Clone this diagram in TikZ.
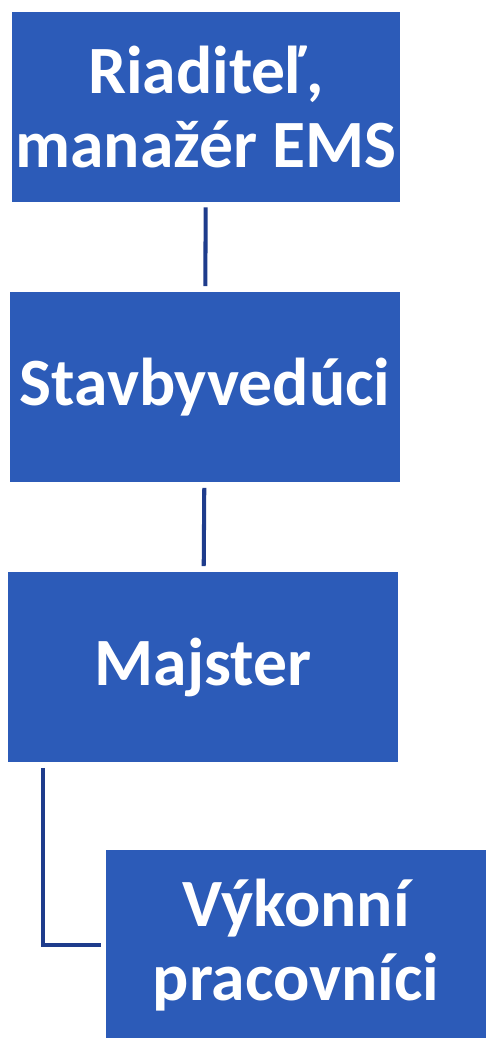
\documentclass[tikz,border=0pt]{standalone}
\usepackage{fontspec}
\setmainfont{Carlito}
\usepackage{tikz}

\definecolor{boxblue}{RGB}{44,91,184}
\definecolor{linkblue}{RGB}{30,60,140}

\begin{document}
\begin{tikzpicture}[x=0.02cm,y=-0.02cm,
  role/.style={shape=rectangle,fill=boxblue,text=white,align=center,inner sep=0pt,
    font=\fontsize{38.5}{42.5}\selectfont\bfseries},
  link/.style={draw=linkblue,line width=2.3pt,shorten <=0.1cm,shorten >=0.1cm}]
\useasboundingbox (0,0) rectangle (488,1038);
\path (206,107) node (riaditel) [role,minimum width=7.78cm,minimum height=3.8cm] {Riaditeľ,\\manažér EMS};
\path (205,387) node (stavby) [role,minimum width=7.8cm,minimum height=3.82cm] {Stavbyvedúci};
\path (203,667) node (majster) [role,minimum width=7.8cm,minimum height=3.82cm] {Majster};
\path (296,945) node (vykon) [role,minimum width=7.6cm,minimum height=3.8cm] {Výkonní\\pracovníci};
%\path (296,945) node (vykon) [role] {Výkonní pracovníci};
\path (43,947) coordinate (knee);

\draw [link] (riaditel) to (stavby);
\draw [link] (stavby) to (majster);
\draw [link] (majster.south -| knee) |- (vykon.west);
\end{tikzpicture}
\end{document}
